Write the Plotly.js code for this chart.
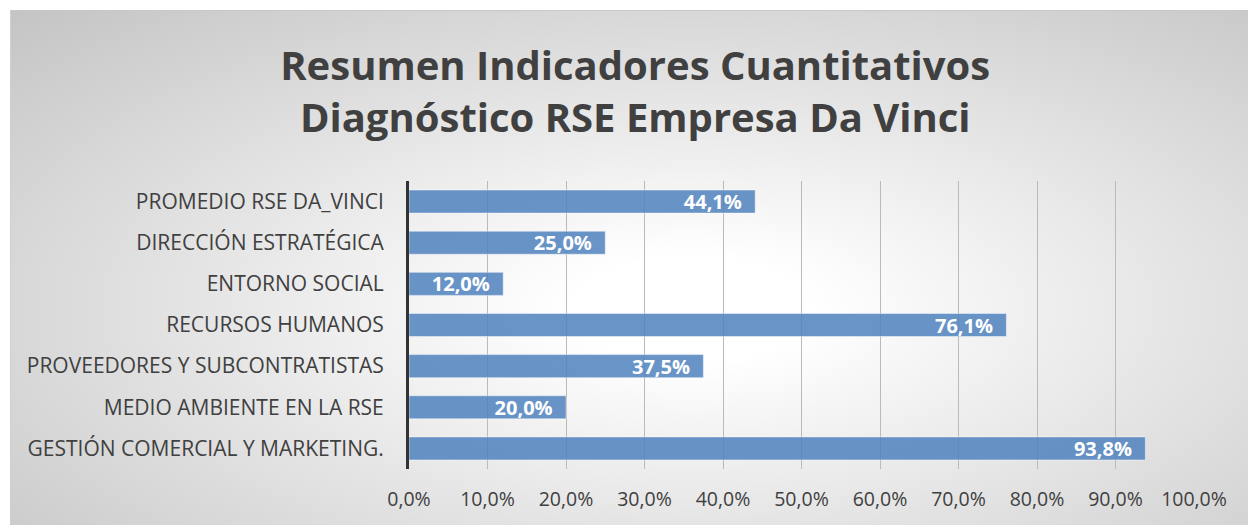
<!DOCTYPE html>
<html>
<head>
<meta charset="utf-8">
<script src="https://cdn.plot.ly/plotly-3.0.1.min.js"></script>
<style>
  html, body { margin: 0; padding: 0; background: #ffffff; width: 1248px; height: 525px; overflow: hidden; }
  #wrap { position: relative; width: 1248px; height: 525px; }
  #bg { position: absolute; left: 10px; top: 10px; right: 0; bottom: 0;
        background: radial-gradient(ellipse farthest-corner at 55% 58%, #ffffff 0%, #ffffff 12%, #c4c4c4 100%);
        border-top: 1px solid #c8c8c8; border-left: 1px solid #cfcfcf; box-sizing: border-box; }
  #chart { position: absolute; left: 0; top: 0; width: 1248px; height: 525px; }
</style>
</head>
<body>
<div id="wrap">
  <div id="bg"></div>
  <div id="chart"></div>
</div>
<script>
const categories = [
  "PROMEDIO RSE DA_VINCI",
  "DIRECCIÓN ESTRATÉGICA",
  "ENTORNO SOCIAL",
  "RECURSOS HUMANOS",
  "PROVEEDORES Y SUBCONTRATISTAS",
  "MEDIO AMBIENTE EN LA RSE",
  "GESTIÓN COMERCIAL Y MARKETING."
];
const values = [0.441, 0.250, 0.120, 0.761, 0.375, 0.200, 0.938];
const tickValues = [0, 0.1, 0.2, 0.3, 0.4, 0.5, 0.6, 0.7, 0.8, 0.9, 1.0];
const titleText = "Resumen Indicadores Cuantitativos<br>Diagnóstico RSE Empresa Da Vinci";

const trace = {
  type: "bar",
  orientation: "h",
  y: categories,
  x: values,
  width: 0.56,
  marker: { color: "rgba(79,129,189,0.85)", line: { color: "rgba(255,255,255,0.45)", width: 1 } },
  texttemplate: "%{x:.1%}\u00a0\u00a0",
  textposition: "inside",
  insidetextanchor: "end",
  constraintext: "none",
  textfont: { family: "Open Sans, sans-serif", size: 20, color: "#ffffff", weight: "bold" },
  hoverinfo: "skip",
  cliponaxis: false
};

const layout = {
  width: 1248,
  height: 525,
  paper_bgcolor: "rgba(0,0,0,0)",
  plot_bgcolor: "rgba(0,0,0,0)",
  separators: ",.",
  margin: { l: 409, r: 54, t: 181, b: 56, pad: 0 },
  showlegend: false,
  font: { family: "Open Sans, sans-serif", color: "#404040" },
  title: {
    text: titleText,
    font: { family: "Open Sans, sans-serif", size: 40, color: "#404040", weight: "bold" },
    x: 0.509, xanchor: "center", xref: "container",
    y: 1 - 80/525, yanchor: "middle", yref: "container"
  },
  xaxis: {
    range: [0, 1],
    tickvals: tickValues,
    tickformat: ".1%",
    showgrid: true,
    gridcolor: "#bababa",
    gridwidth: 1,
    zeroline: false,
    showline: false,
    ticks: "",
    tickfont: { family: "Open Sans, sans-serif", size: 19.5, color: "#404040" },
    ticklabelstandoff: 16,
    fixedrange: true
  },
  yaxis: {
    type: "category",
    autorange: "reversed",
    showline: true,
    linecolor: "#333333",
    linewidth: 3,
    showgrid: false,
    ticks: "",
    tickfont: { family: "Open Sans, sans-serif", size: 21, color: "#404040" },
    ticklabelstandoff: 18,
    fixedrange: true
  },
  bargap: 0.44
};

Plotly.newPlot("chart", [trace], layout, { displayModeBar: false, staticPlot: true });
</script>
</body>
</html>
